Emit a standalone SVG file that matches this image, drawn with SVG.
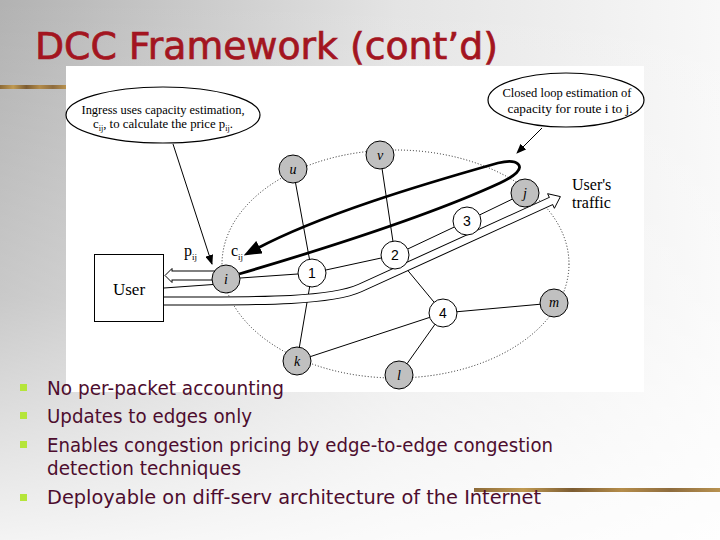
<svg xmlns="http://www.w3.org/2000/svg" width="720" height="540" viewBox="0 0 720 540">
<defs>
<linearGradient id="bgH" x1="0" y1="0" x2="720" y2="0" gradientUnits="userSpaceOnUse">
<stop offset="0" stop-color="#b2b2b2"/>
<stop offset="0.55" stop-color="#e4e4e4"/>
<stop offset="1" stop-color="#f8f8f8"/>
</linearGradient>
<linearGradient id="bgV" x1="0" y1="0" x2="0" y2="540" gradientUnits="userSpaceOnUse">
<stop offset="0" stop-color="#ffffff" stop-opacity="0"/>
<stop offset="0.55" stop-color="#ffffff" stop-opacity="0.3"/>
<stop offset="1" stop-color="#ffffff" stop-opacity="0.85"/>
</linearGradient>
<linearGradient id="strip" x1="0" y1="0" x2="1" y2="0">
<stop offset="0" stop-color="#8c6a38"/>
<stop offset="0.2" stop-color="#c09a52"/>
<stop offset="0.4" stop-color="#7c5c32"/>
<stop offset="0.6" stop-color="#b48c4a"/>
<stop offset="0.8" stop-color="#8e6c3e"/>
<stop offset="1" stop-color="#b89250"/>
</linearGradient>
<marker id="arr" viewBox="0 0 10 8" refX="9" refY="4" markerWidth="10" markerHeight="8" markerUnits="userSpaceOnUse" orient="auto">
<path d="M0,0 L10,4 L0,8 z" fill="#000"/>
</marker>
<marker id="big" viewBox="0 0 18 14" refX="4" refY="7" markerWidth="18" markerHeight="14" markerUnits="userSpaceOnUse" orient="auto">
<path d="M0,0 L18,7 L0,14 z" fill="#000"/>
</marker>
<style>
.gn{fill:#c0c0c0;stroke:#000;stroke-width:1}
.wn{fill:#fff;stroke:#000;stroke-width:1}
.gl{font-family:"Liberation Serif","Times New Roman",serif;font-style:italic;font-size:14px;text-anchor:middle;fill:#000}
.nl{font-family:"Liberation Sans",Arial,sans-serif;font-size:14px;text-anchor:middle;fill:#000}
.thin{stroke:#000;stroke-width:1;fill:none}
.dot{stroke:#222;stroke-width:1;stroke-dasharray:1 2;fill:none}
.tx{font-family:"Liberation Serif","Times New Roman",serif;fill:#000}
.bul{font-family:"DejaVu Sans","Liberation Sans",sans-serif;font-size:19px;fill:#4d0d2e}
.sq{fill:#b5e53a}
.call{fill:#fff;stroke:#000;stroke-width:1.2}
</style>
</defs>

<!-- background -->
<rect x="0" y="0" width="720" height="540" fill="url(#bgH)"/>
<rect x="0" y="0" width="720" height="540" fill="url(#bgV)"/>
<rect x="0" y="85" width="66" height="4" fill="url(#strip)"/>
<rect x="474" y="488" width="246" height="4" fill="url(#strip)"/>

<text x="35" y="59" font-family="DejaVu Sans, Liberation Sans, sans-serif" font-size="38" fill="#a31520" stroke="#a31520" stroke-width="0.7" textLength="463" lengthAdjust="spacingAndGlyphs">DCC Framework (cont’d)</text>

<!-- diagram image area -->
<rect x="66" y="66" width="578" height="326" fill="#ffffff"/>

<!-- network boundary -->
<ellipse cx="395.5" cy="264" rx="173.5" ry="114" class="dot"/>

<g id="connectors">
<path class="thin" d="M293,169 L312,273"/>
<path class="thin" d="M312,273 L297,361"/>
<path class="thin" d="M380,155 L395,255"/>
<path class="thin" d="M395,255 L443,313"/>
<path class="thin" d="M443,313 L554,303"/>
<path class="thin" d="M443,313 L399,375"/>
<path class="thin" d="M297,361 L443,313"/>
<path class="thin" d="M226,279 L312,273"/>
<path class="thin" d="M312,273 L395,255"/>
<path class="thin" d="M395,255 L467,221"/>
<path class="thin" d="M467,221 L525,193"/>
<path class="thin" d="M164,288 L220,284"/>
<!-- price arrow (hollow) to User -->
<path d="M172,275.5 H220" stroke="#000" stroke-width="10" fill="none"/>
<polygon points="172,268.5 165,275.5 172,282.5" fill="#fff" stroke="#000" stroke-width="1"/>
<path d="M171,275.5 H221" stroke="#fff" stroke-width="8" fill="none"/>
<!-- user's traffic (hollow arrow) -->
<path d="M164,301 C260,301 330,301.6 360,288 L551,201" stroke="#000" stroke-width="9" fill="none"/>
<polygon points="554.4,208.3 560.4,196.6 547.6,193.7" fill="#fff" stroke="#000" stroke-width="1"/>
<path d="M164,301 C260,301 330,301.6 360,288 L552,200.5" stroke="#fff" stroke-width="7" fill="none"/>
<!-- closed loop estimation (thick) -->
<path d="M239,274 C300,256 420,220 500,183 C515,176 523,169 518,164 C514,160 506,161 498,163 C420,185 320,215 256,249" stroke="#000" stroke-width="2.8" fill="none" marker-end="url(#big)"/>
<!-- callout arrows -->
<path class="thin" d="M173,144 L212,264" marker-end="url(#arr)"/>
<path class="thin" d="M542,128 L517,153" marker-end="url(#arr)"/>
</g>

<g id="callout-ingress">
<ellipse cx="163" cy="115" rx="97" ry="28" class="call"/>
<text class="tx" x="163" y="114" font-size="12.5" text-anchor="middle" textLength="163" lengthAdjust="spacingAndGlyphs">Ingress uses capacity estimation,</text>
<text class="tx" x="93" y="128" font-size="12.5" textLength="140" lengthAdjust="spacingAndGlyphs">c<tspan font-size="8" dy="3">ij</tspan><tspan dy="-3">, to calculate the price p</tspan><tspan font-size="8" dy="3">ij</tspan><tspan dy="-3">.</tspan></text>
</g>

<g id="callout-loop">
<ellipse cx="566" cy="100" rx="78" ry="27" class="call"/>
<text class="tx" x="567" y="97" font-size="12.5" text-anchor="middle" textLength="129" lengthAdjust="spacingAndGlyphs">Closed loop estimation of</text>
<text class="tx" x="570" y="113" font-size="12.5" text-anchor="middle" textLength="125" lengthAdjust="spacingAndGlyphs">capacity for route i to j.</text>
</g>

<g id="user">
<rect x="94.5" y="254.5" width="69" height="67" fill="#fff" stroke="#000" stroke-width="1"/>
<text class="tx" x="129" y="295" font-size="17" text-anchor="middle">User</text>
</g>

<g id="label-pij"><text class="tx" x="184" y="256" font-size="16">p<tspan font-size="9" dy="4">ij</tspan></text></g>
<g id="label-cij"><text class="tx" x="231" y="256" font-size="16">c<tspan font-size="9" dy="4">ij</tspan></text></g>

<g id="label-traffic">
<text class="tx" x="572" y="190" font-size="16">User's</text>
<text class="tx" x="572" y="208" font-size="16">traffic</text>
</g>

<g id="node-u"><circle cx="293" cy="169" r="14" class="gn"/><text class="gl" x="293" y="174">u</text></g>
<g id="node-v"><circle cx="380" cy="155" r="14" class="gn"/><text class="gl" x="380" y="160">v</text></g>
<g id="node-j"><circle cx="525" cy="193" r="14" class="gn"/><text class="gl" x="525" y="198">j</text></g>
<g id="node-i"><circle cx="226" cy="279" r="14" class="gn"/><text class="gl" x="226" y="284">i</text></g>
<g id="node-k"><circle cx="297" cy="361" r="14" class="gn"/><text class="gl" x="297" y="366">k</text></g>
<g id="node-l"><circle cx="399" cy="375" r="14" class="gn"/><text class="gl" x="399" y="380">l</text></g>
<g id="node-m"><circle cx="554" cy="303" r="14" class="gn"/><text class="gl" x="554" y="307">m</text></g>
<g id="node-1"><circle cx="312" cy="273" r="14" class="wn"/><text class="nl" x="312" y="278">1</text></g>
<g id="node-2"><circle cx="395" cy="255" r="14" class="wn"/><text class="nl" x="395" y="260">2</text></g>
<g id="node-3"><circle cx="467" cy="221" r="14" class="wn"/><text class="nl" x="467" y="226">3</text></g>
<g id="node-4"><circle cx="443" cy="313" r="14" class="wn"/><text class="nl" x="443" y="318">4</text></g>

<g id="bullets">
<rect class="sq" x="20" y="384" width="7" height="7"/>
<rect class="sq" x="20" y="412" width="7" height="7"/>
<rect class="sq" x="20" y="441" width="7" height="7"/>
<rect class="sq" x="20" y="494" width="7" height="7"/>
<text class="bul" x="47" y="395" textLength="237" lengthAdjust="spacingAndGlyphs">No per-packet accounting</text>
<text class="bul" x="47" y="423" textLength="205" lengthAdjust="spacingAndGlyphs">Updates to edges only</text>
<text class="bul" x="47" y="452" textLength="506" lengthAdjust="spacingAndGlyphs">Enables congestion pricing by edge-to-edge congestion</text>
<text class="bul" x="47" y="475" textLength="194" lengthAdjust="spacingAndGlyphs">detection techniques</text>
<text class="bul" x="47" y="504" textLength="494" lengthAdjust="spacingAndGlyphs">Deployable on diff-serv architecture of the Internet</text>
</g>
</svg>
